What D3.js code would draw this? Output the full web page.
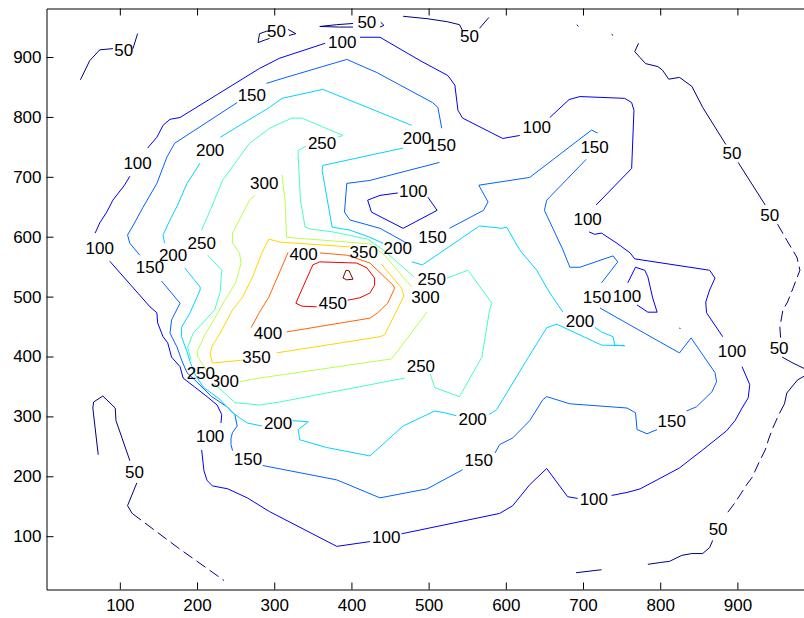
<!DOCTYPE html>
<html><head><meta charset="utf-8">
<script src="https://cdn.jsdelivr.net/npm/d3@7"></script>
<style>html,body{margin:0;padding:0;background:#fff;} svg{display:block;font-family:"Liberation Sans",Arial,Helvetica,sans-serif;}</style>
</head><body><svg id="chart" width="804" height="618"></svg>
<script>
// ---- data (contour polylines in data units, broken where labels sit) ----
const levels = [50,100,150,200,250,300,350,400,450,500];
const xTicks = [100,200,300,400,500,600,700,800,900];
const yTicks = [100,200,300,400,500,600,700,800,900];

const contour50 = [
  [[49,862],[61,894],[74,912],[91,914]],
  [[117,914],[123,939]],
  [[296,944],[290,943],[281,939],[279,924],[289,929],[294,931]],
  [[318,946],[328,939],[319,936]],
  [[402,956],[381,954],[359,951],[385,950],[402,950]],
  [[438,958],[442,953],[437,950]],
  [[467,968],[498,964],[524,959],[540,954],[544,944]],
  [[566,948],[578,966]],
  [[692,954],[694,951]],
  [[737,938],[739,936]],
  [[772,923],[767,909],[774,899],[781,889],[797,884],[803,878],[811,863],[825,866],[841,851],[855,816],[885,754]],
  [[901,724],[936,653]],
  [[952,621],[964,594],[977,566],[981,544],[972,514],[965,491],[959,478],[955,449],[956,431]],
  [[958,399],[972,389],[996,374],[978,361],[964,339],[961,321]],
  [[961,321],[954,304],[946,281],[941,264],[936,244],[929,226],[919,198],[912,186],[901,164],[897,156],[884,134]],
  [[868,93],[864,81],[855,71],[841,71],[828,68],[812,58],[800,56],[784,53]],
  [[724,44],[691,39]],
  [[72,236],[65,314],[66,324],[78,334],[94,314],[95,293],[113,226]],
  [[122,189],[110,151],[116,138]],
  [[116,138],[175,81],[235,26]]
];
const labels50 = [[105,911],[303,943],[420,958],[553,934],[893,739],[942,636],[954,414],[875,111],[119,206]];
const dashed50 = [12,14,19];

const contour100 = [
  [[206,244],[209,209],[213,193],[220,184],[240,179],[265,164],[294,141],[381,83],[424,91]],
  [[465,104],[592,138],[609,151],[631,186],[653,213],[680,166],[693,163]],
  [[737,168],[757,173],[774,179],[796,194],[825,214],[855,244],[886,276],[897,293],[906,314],[914,331],[916,353],[906,383]],
  [[881,433],[860,473],[859,491],[864,511],[871,531],[864,544],[767,563],[761,573],[744,589],[724,606],[715,604],[708,608]],
  [[717,653],[763,714],[766,811],[763,824],[754,831],[696,834],[682,829],[657,799]],
  [[618,769],[596,764],[544,798],[538,811],[534,853],[525,869],[489,894],[437,933],[411,933]],
  [[366,923],[307,898],[281,881],[178,799],[165,796],[156,786],[148,766],[136,748]],
  [[113,701],[106,686],[91,661],[83,641],[74,623],[68,606]],
  [[87,559],[139,483],[148,473],[149,456],[156,433],[162,423],[167,399],[178,383],[182,364],[197,349],[213,333],[226,319],[232,303],[231,289]],
  [[499,666],[511,644],[467,614],[426,641],[421,661],[437,669],[460,673]],
  [[770,486],[784,474],[796,474],[790,499],[784,533],[780,544],[768,549],[758,523]],
  [[825,448],[826,446]]
];
const labels100 = [[445,98],[714,161],[893,408],[706,629],[640,783],[388,924],[123,723],[74,581],[217,266],[480,676],[757,501]];

const contour150 = [
  [[290,856],[310,864],[394,896],[433,874],[505,824],[512,816],[517,781]],
  [[514,724],[424,694],[394,689],[391,641],[398,628],[437,614],[472,589]],
  [[527,614],[571,644],[577,658],[565,686],[631,699],[711,778],[719,773]],
  [[704,729],[653,661],[650,644],[674,578],[683,549],[696,549],[739,568],[745,558],[724,523]],
  [[722,481],[800,424],[825,406],[840,431],[871,373],[873,358],[867,341],[847,316],[834,309]],
  [[796,278],[783,271],[770,278],[768,306],[757,314],[683,321],[653,333],[648,328],[631,293],[609,264],[592,253],[586,239]],
  [[544,211],[498,179],[437,164],[381,194],[285,218]],
  [[246,243],[244,253],[244,264],[246,273],[252,284],[249,303],[239,316],[219,333],[197,361],[187,373],[180,394],[174,416],[165,439],[167,461],[178,489],[154,526]],
  [[126,569],[113,589],[110,603],[116,616],[130,649],[148,689],[161,733],[171,756],[252,824]]
];
const labels150 = [[271,836],[517,753],[505,599],[715,749],[718,499],[815,291],[565,226],[266,228],[139,548]];

const contour200 = [
  [[230,766],[294,816],[310,831],[363,846],[478,786]],
  [[467,748],[363,719],[362,711],[375,616],[398,611],[424,599],[441,589]],
  [[478,558],[492,553],[566,618],[595,614],[601,616],[618,578],[640,544],[657,506],[674,474]],
  [[715,449],[724,441],[739,433],[741,419],[754,418],[724,419],[666,454],[653,448],[627,394],[588,311],[578,303]],
  [[536,301],[521,306],[508,309],[498,303],[467,284],[424,234],[368,248],[333,261],[331,278],[344,291],[324,293]],
  [[284,284],[265,289],[246,306],[230,328],[208,349],[198,369],[191,391],[187,408],[180,433],[180,449],[191,473],[204,511],[204,516],[184,548]],
  [[158,589],[156,603],[165,628],[175,653],[187,689],[204,723]]
];
const labels200 = [[217,744],[485,764],[460,581],[696,459],[557,294],[305,288],[169,568]];

const contour250 = [
  [[206,611],[220,653],[233,694],[268,756],[294,781],[307,789],[323,798],[336,798],[389,769],[382,766]],
  [[341,751],[331,744],[331,736],[334,661],[340,616],[346,613],[376,608],[421,596],[441,578],[481,533]],
  [[524,531],[551,544],[582,489],[579,478],[569,399],[540,333],[508,348],[502,371]],
  [[469,364],[307,324],[281,319],[249,323],[223,354]],
  [[192,394],[188,416],[195,439],[223,478],[230,508],[232,544],[214,569]]
];
const labels250 = [[206,589],[362,756],[504,528],[490,384],[205,371]];

const contour300 = [
  [[310,703],[314,661],[316,599],[424,588],[443,569],[478,516]],
  [[498,474],[452,396],[281,364],[255,358]],
  [[214,374],[201,399],[200,408],[204,419],[210,436],[223,464],[236,494],[250,523],[257,556],[255,573],[246,589],[246,606],[268,661],[275,669]]
];
const labels300 = [[287,688],[496,498],[236,359]];

const contour350 = [
  [[303,406],[437,433],[443,436],[468,501],[465,514],[439,554]],
  [[398,583],[307,591],[293,596],[284,573],[272,533],[259,499],[246,478],[230,439],[219,416],[217,403],[220,389],[259,394]]
];
const labels350 = [[416,573],[277,399]];

const contour400 = [
  [[359,573],[395,569],[424,556],[454,519],[456,514],[447,489],[434,473],[424,464],[316,441]],
  [[270,448],[281,474],[293,499],[318,574]]
];
const labels400 = [[338,571],[292,439]];

const contour450 = [
  [[355,483],[336,484],[328,489],[350,553],[359,558],[407,556],[420,548],[430,531],[430,519],[424,506],[411,498],[395,494]]
];
const labels450 = [[376,488]];

const contour500 = [
  [[389,531],[393,544],[397,543],[402,529],[394,528],[389,531]]
];
const labels500 = [];

// ---- assemble ----
const table = [
  {level:50, segs:contour50, labels:labels50, dashed:dashed50},
  {level:100, segs:contour100, labels:labels100, dashed:[]},
  {level:150, segs:contour150, labels:labels150, dashed:[]},
  {level:200, segs:contour200, labels:labels200, dashed:[]},
  {level:250, segs:contour250, labels:labels250, dashed:[]},
  {level:300, segs:contour300, labels:labels300, dashed:[]},
  {level:350, segs:contour350, labels:labels350, dashed:[]},
  {level:400, segs:contour400, labels:labels400, dashed:[]},
  {level:450, segs:contour450, labels:labels450, dashed:[]},
  {level:500, segs:contour500, labels:labels500, dashed:[]}
];

const svg = d3.select('#chart');
const x = d3.scaleLinear().domain([5,1000]).range([46.5,814.6]);
const y = d3.scaleLinear().domain([11,981]).range([589.5,8.5]);

const clamp = v => Math.max(0, Math.min(1, v));
const jet = t => d3.rgb(255*clamp(1.5-Math.abs(4*t-3)), 255*clamp(1.5-Math.abs(4*t-2)), 255*clamp(1.5-Math.abs(4*t-1)));
const lmin = d3.min(levels), lmax = d3.max(levels);
const color = l => jet((l-lmin)/(lmax-lmin)).formatHex();

svg.append('defs').append('clipPath').attr('id','plotclip')
  .append('rect').attr('x',x(5)).attr('y',y(981)).attr('width',x(1000)-x(5)).attr('height',y(11)-y(981));

const line = d3.line().x(d=>x(d[0])).y(d=>y(d[1]));
const plot = svg.append('g').attr('clip-path','url(#plotclip)');

table.forEach(row => {
  const g = plot.append('g');
  g.selectAll('path').data(row.segs).join('path')
    .attr('d', line)
    .attr('fill','none')
    .attr('stroke', color(row.level))
    .attr('stroke-width', 1)
    .attr('stroke-linejoin','round')
    .attr('stroke-dasharray', (d,i) => row.dashed.includes(i) ? '11,5' : null);
});

const labelG = svg.append('g');
table.forEach(row => {
  labelG.selectAll(null).data(row.labels).join('text')
    .attr('x', d => x(d[0]))
    .attr('y', d => y(d[1]))
    .attr('text-anchor','middle')
    .attr('dominant-baseline','central')
    .attr('font-size', 17)
    .attr('fill','#000')
    .text(row.level);
});

// ---- axes ----
const styleAxis = g => {
  g.attr('font-size', 17).attr('font-family', '"Liberation Sans",Arial,Helvetica,sans-serif');
  g.selectAll('text').attr('fill','#000');
  g.selectAll('line,path').attr('stroke','#000');
};
svg.append('g').attr('transform',`translate(0,${y(11)})`)
  .call(d3.axisBottom(x).tickValues(xTicks).tickSizeInner(-7).tickSizeOuter(0).tickPadding(9))
  .call(styleAxis);
svg.append('g').attr('transform',`translate(0,${y(981)})`)
  .call(d3.axisTop(x).tickValues(xTicks).tickSizeInner(-7).tickSizeOuter(0).tickFormat(''))
  .call(styleAxis);
svg.append('g').attr('transform',`translate(${x(5)},0)`)
  .call(d3.axisLeft(y).tickValues(yTicks).tickSizeInner(-7).tickSizeOuter(0).tickPadding(5))
  .call(styleAxis);
svg.append('g').attr('transform',`translate(${x(1000)},0)`)
  .call(d3.axisRight(y).tickValues(yTicks).tickSizeInner(-7).tickSizeOuter(0).tickFormat(''))
  .call(styleAxis);
</script>
</body></html>
